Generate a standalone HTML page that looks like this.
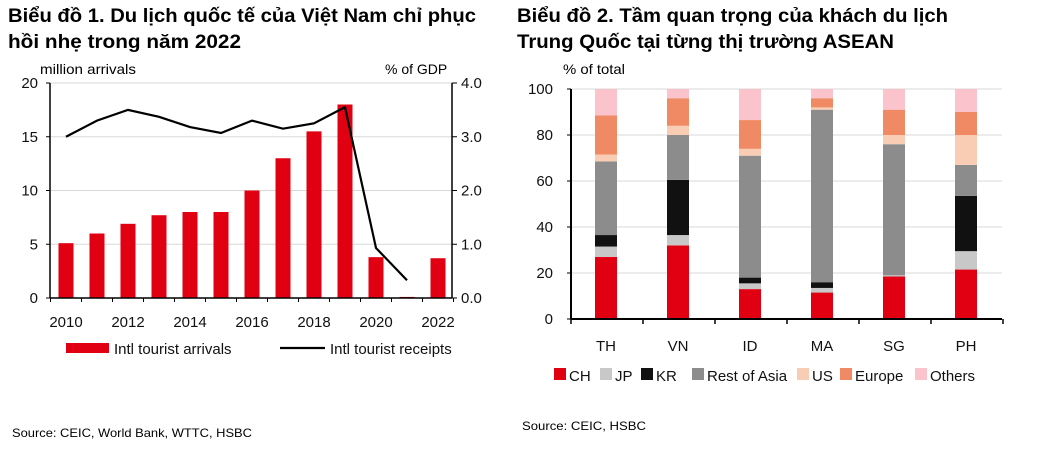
<!DOCTYPE html>
<html><head><meta charset="utf-8"><style>
html,body{margin:0;padding:0;background:#fff;}
svg{display:block;font-family:"Liberation Sans",Arial,sans-serif;}
.t{font-weight:bold;font-size:19px;fill:#000;}
.ax{font-size:15px;fill:#111;}
</style></head><body>
<svg id="s" width="1043" height="449" viewBox="0 0 1043 449" xmlns="http://www.w3.org/2000/svg">
<text class="t" x="8" y="22" textLength="468" lengthAdjust="spacingAndGlyphs">Biểu đồ 1. Du lịch quốc tế của Việt Nam chỉ phục</text>
<text class="t" x="8" y="48" textLength="233" lengthAdjust="spacingAndGlyphs">hồi nhẹ trong năm 2022</text>
<text class="t" x="517" y="22" textLength="431" lengthAdjust="spacingAndGlyphs">Biểu đồ 2. Tầm quan trọng của khách du lịch</text>
<text class="t" x="517" y="48" textLength="377" lengthAdjust="spacingAndGlyphs">Trung Quốc tại từng thị trường ASEAN</text>
<text x="40" y="74" font-size="14" textLength="96" lengthAdjust="spacingAndGlyphs">million  arrivals</text>
<text x="385" y="74" font-size="14">% of GDP</text>
<text x="563" y="74" font-size="14" textLength="62" lengthAdjust="spacingAndGlyphs">% of total</text>
<text x="12" y="437" font-size="12" textLength="240" lengthAdjust="spacingAndGlyphs">Source: CEIC, World Bank, WTTC, HSBC</text>
<text x="522" y="430" font-size="12" textLength="124" lengthAdjust="spacingAndGlyphs">Source: CEIC, HSBC</text>
<g id="c1"></g><g id="c2"></g>
</svg>
<script>
const years=[2010,2011,2012,2013,2014,2015,2016,2017,2018,2019,2020,2021,2022];
const arrivals=[5.1,6,6.9,7.7,8,8,10,13,15.5,18,3.8,0.1,3.7];
const receipts=[3.0,3.3,3.5,3.37,3.18,3.07,3.3,3.15,3.25,3.55,0.93,0.33,null];
const leftTicks=[0,5,10,15,20];
const rightTicks=["0.0","1.0","2.0","3.0","4.0"];
const countries=["TH","VN","ID","MA","SG","PH"];
const seriesNames=["CH","JP","KR","Rest of Asia","US","Europe","Others"];
const sCH=[27,32,13,11.5,18.5,21.5];
const sJP=[4.5,4.5,2.5,2,0.5,8];
const sKR=[5,24,2.5,2.5,0,24];
const sRest=[32,19.5,53,75,57,13.5];
const sUS=[3,4,3,1,4,13];
const sEurope=[17,12,12.5,4,11,10];
const sOthers=[11.5,4,13.5,4,9,10];
const yTicks2=[0,20,40,60,80,100];
const colors=["#e00012","#c8c8c8","#111111","#8c8c8c","#f9cdb4","#f08a64","#fbc3cc"];
const NS="http://www.w3.org/2000/svg";
function mk(p,t,a,txt){const e=document.createElementNS(NS,t);for(const k in a)e.setAttribute(k,a[k]);if(txt!=null)e.textContent=txt;p.appendChild(e);return e;}
// chart1
const g1=document.getElementById('c1');
const X0=50,X1=452,Y0=298,Y1=83,step=31,xc0=66;
const xs=i=>xc0+i*step;
const yL=v=>Y0-(v/20)*(Y0-Y1);
const yR=v=>Y0-(v/4)*(Y0-Y1);
leftTicks.forEach((v,i)=>{
 if(v>0){const l=mk(g1,'line',{x1:X0,x2:X1,y1:yL(v),y2:yL(v),stroke:'#d8d8d8','stroke-width':1});}
 const t=mk(g1,'text',{x:38,y:yL(v)+5,'text-anchor':'end',class:'ax'},String(v));
 const t2=mk(g1,'text',{x:461,y:yR(i)+5,class:'ax'},rightTicks[i]);
 mk(g1,'line',{x1:X0-4,x2:X0,y1:yL(v),y2:yL(v),stroke:'#000'});
 mk(g1,'line',{x1:X1,x2:X1+5,y1:yL(v),y2:yL(v),stroke:'#000'});
});
arrivals.forEach((v,i)=>{const r=mk(g1,'rect',{x:xs(i)-7.5,y:yL(v),width:15,height:Y0-yL(v),fill:'#e00012'});});
mk(g1,'line',{x1:X0,x2:X0,y1:Y1,y2:Y0,stroke:'#000','stroke-width':1.5});
mk(g1,'line',{x1:X1,x2:X1,y1:Y1,y2:Y0,stroke:'#000','stroke-width':1.5});
mk(g1,'line',{x1:X0,x2:X1,y1:Y0,y2:Y0,stroke:'#000','stroke-width':1.5});
for(let i=0;i<=years.length;i++){const x=xs(i)-step/2;mk(g1,'line',{x1:x,x2:x,y1:Y0,y2:Y0+4,stroke:'#000'});}
years.forEach((y,i)=>{if(i%2===0){const t=mk(g1,'text',{x:xs(i),y:327,'text-anchor':'middle',class:'ax'},String(y));}});
let d='';receipts.forEach((v,i)=>{if(v!=null)d+=(d?'L':'M')+xs(i)+','+yR(v);});
const ln=mk(g1,'path',{d:d,fill:'none',stroke:'#000','stroke-width':2.2});
const lg1=mk(g1,'g',{});
mk(lg1,'rect',{x:66,y:343,width:43,height:10,fill:'#e00012'});
mk(lg1,'text',{x:114,y:354,class:'ax'},'Intl tourist arrivals');
mk(lg1,'line',{x1:280,x2:325,y1:348,y2:348,stroke:'#000','stroke-width':2.2});
mk(lg1,'text',{x:330,y:354,class:'ax'},'Intl tourist receipts');
// chart2
const g2=document.getElementById('c2');
const A0=571,A1=1002,B0=319,B1=89,st2=72,cx0=606;
const cx=i=>cx0+i*st2;
const y2=v=>B0-(v/100)*(B0-B1);
yTicks2.forEach(v=>{
 if(v>0){const l=mk(g2,'line',{x1:A0,x2:A1,y1:y2(v),y2:y2(v),stroke:'#d8d8d8'});}
 mk(g2,'line',{x1:A0-4,x2:A0,y1:y2(v),y2:y2(v),stroke:'#000'});
 const t=mk(g2,'text',{x:553,y:y2(v)+5,'text-anchor':'end',class:'ax'},String(v));
});
const all=[sCH,sJP,sKR,sRest,sUS,sEurope,sOthers];
countries.forEach((c,i)=>{let acc=0;all.forEach((s,k)=>{const v=s[i];if(v>0){const r=mk(g2,'rect',{x:cx(i)-11,y:y2(acc+v),width:22,height:y2(acc)-y2(acc+v),fill:colors[k]});}acc+=v;});
 const t=mk(g2,'text',{x:cx(i),y:351,'text-anchor':'middle',class:'ax','font-size':'16'},c);
});
mk(g2,'line',{x1:A0,x2:A0,y1:B1,y2:B0,stroke:'#000','stroke-width':2});
mk(g2,'line',{x1:A0,x2:A1,y1:B0,y2:B0,stroke:'#000','stroke-width':2});
for(let i=0;i<=countries.length;i++){const x=A0+i*st2;mk(g2,'line',{x1:x,x2:x,y1:B0,y2:B0+5,stroke:'#000','stroke-width':1.5});}
const lg2=mk(g2,'g',{});
const sqx=[554,600,641,692,797,840,915];
seriesNames.forEach((n,k)=>{mk(lg2,'rect',{x:sqx[k],y:368,width:12,height:12,fill:colors[k]});mk(lg2,'text',{x:sqx[k]+15,y:381,class:'ax','font-size':'16'},n);});
</script>
</body></html>
